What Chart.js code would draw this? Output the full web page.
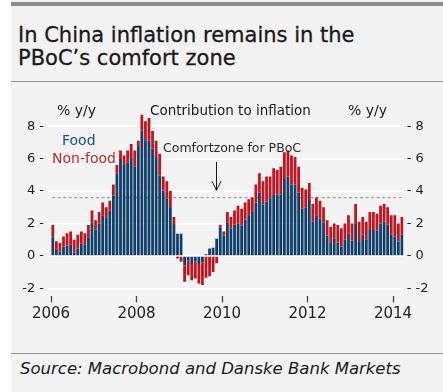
<!DOCTYPE html>
<html>
<head>
<meta charset="utf-8">
<script src="https://cdn.jsdelivr.net/npm/chart.js@4.4.1/dist/chart.umd.min.js"></script>
<style>
  html, body { margin: 0; padding: 0; background: #fff; }
  body { width: 443px; height: 392px; position: relative; overflow: hidden; font-family: "DejaVu Sans", sans-serif; }
  #panel { position: absolute; left: 11px; top: 0; width: 432px; height: 392px; background: #f2f2f2; }
  #topbar { position: absolute; left: 0; top: 2px; width: 432px; height: 4px; background: #8c8c8c; }
  #title { position: absolute; left: 7px; top: 24px; font-size: 21px; line-height: 23px; color: #1a1a1a; -webkit-text-stroke: 0.3px #1a1a1a; }
  .rule { position: absolute; left: 0; width: 432px; height: 1px; background: #8f8f8f; }
  #source { position: absolute; left: 9px; top: 359px; font-size: 16.5px; line-height: 20px; font-style: italic; color: #1a1a1a; }
  #wrap { position: absolute; left: 0; top: 86px; width: 432px; height: 262px; }
</style>
</head>
<body>
<div id="panel">
  <div id="topbar"></div>
  <div id="title">In China inflation remains in the<br>PBoC’s comfort zone</div>
  <div class="rule" style="top:81px"></div>
  <div id="wrap"><canvas id="cpi" width="432" height="262"></canvas></div>
  <div class="rule" style="top:353px"></div>
  <div id="source">Source: Macrobond and Danske Bank Markets</div>
</div>
<script>
// monthly contributions to CPI, % y/y, Jan 2006 - Mar 2014
const startYear = 2006
const yearTicks = [2006, 2008, 2010, 2012, 2014]
const food = [
  1.15, 0.37, 0.27, 0.58, 0.62, 0.68, 0.2, 0.45, 0.78, 0.72, 1.15, 2.06,
  1.61, 1.98, 2.5, 2.33, 2.78, 3.71, 5.07, 5.98, 5.6, 5.77, 6.04, 5.52,
  6.72, 7.75, 7.13, 7.13, 6.62, 6.1, 4.97, 4.04, 3.53, 2.96, 1.96, 1.36,
  1.36, -0.6, -0.3, -0.5, -0.35, -0.5, -0.4, 0.1, 0.45, 0.5, 1.05, 1.73,
  1.25, 2.04, 1.7, 1.92, 1.98, 1.87, 2.24, 2.46, 2.7, 3.3, 3.9, 3.15,
  3.35, 3.55, 3.8, 3.77, 3.8, 4.75, 4.9, 4.4, 4.4, 3.9, 2.9, 3.0,
  3.45, 2.1, 2.5, 2.3, 2.05, 1.25, 0.8, 1.09, 0.82, 0.58, 0.99, 1.36,
  0.93, 1.96, 0.85, 1.3, 1.03, 1.6, 1.6, 1.55, 1.98, 2.12, 1.92, 1.34,
  1.2, 0.89, 1.3
]
const nonFood = [
  0.75, 0.53, 0.53, 0.62, 0.78, 0.82, 0.8, 0.85, 0.72, 0.68, 0.75, 0.74,
  0.59, 0.72, 0.8, 0.67, 0.62, 0.69, 0.53, 0.52, 0.6, 0.73, 0.86, 0.98,
  0.38, 0.95, 1.17, 1.37, 1.08, 1.0, 1.33, 0.86, 1.07, 1.04, 0.44, -0.16,
  -0.36, -1.0, -0.9, -1.0, -1.05, -1.2, -1.4, -1.35, -1.25, -1.0, -0.45, 0.17,
  0.25, 0.66, 0.7, 0.88, 1.12, 1.03, 1.06, 1.04, 0.9, 1.1, 1.2, 1.45,
  1.55, 1.35, 1.6, 1.53, 1.7, 1.65, 1.6, 1.8, 1.7, 1.6, 1.3, 1.1,
  1.05, 1.1, 1.1, 1.1, 0.95, 0.95, 1.0, 0.91, 1.08, 1.12, 1.01, 1.14,
  1.07, 1.24, 1.25, 1.1, 1.07, 1.1, 1.1, 1.05, 1.12, 1.08, 1.08, 1.16,
  1.3, 1.11, 1.1
]
const comfortLevel = 3.6

const FOOD = '#0f4069'
const NONFOOD = '#c1141e'
const FONT = '"DejaVu Sans", sans-serif'

// bars sit in the middle of their month, month 0 = Jan 2006
const monthPos = i => i + 0.5
const months = food.map((_, i) => (startYear + Math.floor(i / 12)) + '-' + String(i % 12 + 1).padStart(2, '0'))

const evenLeft = v => Math.abs(v % 2) === 1 ? '-' : v + ' -'
const evenRight = v => Math.abs(v % 2) === 1 ? '-' : '- ' + v
// one tick per whole percent inside the axis range
const wholeTicks = s => {
  const t = []
  for (let v = Math.ceil(s.min); v <= Math.floor(s.max); v++) t.push({value: v})
  s.ticks = t
}

// text drawn inside the plot: units, title, legend and the PBoC note
const notes = {
  id: 'notes',
  afterDatasetsDraw(chart) {
    const {ctx, chartArea: a, scales: {x, y}} = chart
    ctx.save()
    ctx.textAlign = 'left'
    ctx.textBaseline = 'alphabetic'
    ctx.fillStyle = '#1a1a1a'
    ctx.font = '14px ' + FONT
    ctx.fillText('% y/y', a.left + 9, a.top + 5)
    ctx.fillText('% y/y', a.left + 300, a.top + 5)
    ctx.font = '13.5px ' + FONT
    ctx.fillText('Contribution to inflation', a.left + 102, a.top + 5)

    ctx.font = '14px ' + FONT
    ctx.fillStyle = '#1b4f7a'
    ctx.fillText(chart.data.datasets[0].label, a.left + 14, a.top + 35)
    ctx.fillStyle = '#c02a2a'
    ctx.fillText(chart.data.datasets[1].label, a.left + 4, a.top + 53)

    ctx.fillStyle = '#2a2a2a'
    ctx.font = '12.5px ' + FONT
    ctx.fillText('Comfortzone for PBoC', a.left + 115, a.top + 42)

    // arrow pointing down at the comfort line
    const ax = Math.round(x.getPixelForValue(46.3)) + 0.5
    const y0 = y.getPixelForValue(5.8)
    const y1 = y.getPixelForValue(4.05)
    ctx.strokeStyle = '#1a1a1a'
    ctx.lineWidth = 1
    ctx.beginPath()
    ctx.moveTo(ax, y0)
    ctx.lineTo(ax, y1)
    ctx.moveTo(ax - 4.5, y1 - 9)
    ctx.lineTo(ax, y1)
    ctx.lineTo(ax + 4.5, y1 - 9)
    ctx.stroke()
    ctx.restore()
  }
}

new Chart(document.getElementById('cpi'), {
  type: 'bar',
  data: {
    labels: months,
    datasets: [{
      label: 'Food',
      data: food.map((v, i) => ({x: monthPos(i), y: v})),
      backgroundColor: FOOD,
      barPercentage: 0.78,
      categoryPercentage: 1
    }, {
      label: 'Non-food',
      data: nonFood.map((v, i) => ({x: monthPos(i), y: v})),
      backgroundColor: NONFOOD,
      barPercentage: 0.78,
      categoryPercentage: 1
    }, {
      type: 'line',
      label: 'Comfortzone',
      data: [{x: 0.3, y: comfortLevel}, {x: 98.9, y: comfortLevel}],
      borderColor: '#a3a3a3',
      borderWidth: 1.3,
      borderDash: [3, 2.5],
      pointRadius: 0,
      order: 3
    }]
  },
  options: {
    responsive: false,
    animation: false,
    maintainAspectRatio: false,
    layout: {padding: {top: 24, left: 0, right: 0, bottom: 0}},
    plugins: {legend: {display: false}, tooltip: {enabled: false}},
    scales: {
      x: {
        type: 'linear',
        stacked: true,
        offset: false,
        min: -0.85,
        max: 99,
        afterBuildTicks: s => { s.ticks = yearTicks.map(yr => ({value: (yr - startYear) * 12})) },
        afterFit: s => { s.height = 51.6 },
        border: {display: false},
        grid: {offset: false, drawOnChartArea: false, drawTicks: true, tickLength: 6, tickColor: '#444', tickWidth: 1.3},
        ticks: {callback: v => String(startYear + v / 12), color: '#222', font: {family: FONT, size: 15}, padding: 3, maxRotation: 0}
      },
      y: {
        stacked: true,
        min: -2.5,
        max: 9,
        afterBuildTicks: wholeTicks,
        afterFit: s => { s.width = 37 },
        border: {display: false},
        grid: {color: '#ffffff', lineWidth: 1.5, drawTicks: false},
        ticks: {callback: evenLeft, color: '#222', font: {family: FONT, size: 13}, padding: 4}
      },
      y2: {
        position: 'right',
        min: -2.5,
        max: 9,
        afterBuildTicks: wholeTicks,
        afterFit: s => { s.width = 39.3 },
        border: {display: false},
        grid: {drawOnChartArea: false, drawTicks: false},
        ticks: {callback: evenRight, color: '#222', font: {family: FONT, size: 13}, padding: 3}
      }
    }
  },
  plugins: [notes]
})
</script>
</body>
</html>
